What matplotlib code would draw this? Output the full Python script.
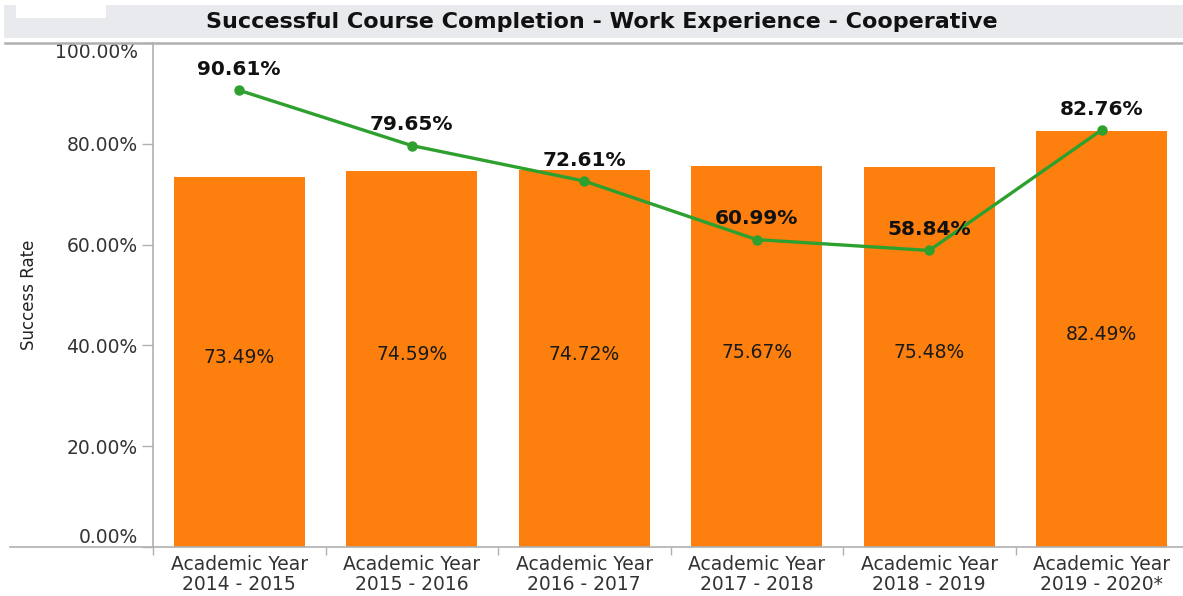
import matplotlib.pyplot as plt
from matplotlib.patches import Rectangle
from matplotlib.lines import Line2D

# donnees
years = ['Academic Year\n2014 - 2015', 'Academic Year\n2015 - 2016', 'Academic Year\n2016 - 2017',
         'Academic Year\n2017 - 2018', 'Academic Year\n2018 - 2019', 'Academic Year\n2019 - 2020*']
bar_rates = [73.49, 74.59, 74.72, 75.67, 75.48, 82.49]
line_rates = [90.61, 79.65, 72.61, 60.99, 58.84, 82.76]
y_ticks = [0, 20, 40, 60, 80, 100]

W, H = 1183, 596
fig = plt.figure(figsize=(W / 100, H / 100), dpi=100)
ax = fig.add_axes([153 / W, 1 - 547 / H, (1188 - 153) / W, (547 - 43) / H])

x = list(range(len(years)))
ax.bar(x, bar_rates, width=0.76, color='#fd7f0e', zorder=2)
ax.plot(x, line_rates, color='#2ea02e', lw=2.4, marker='o', markersize=6.5, zorder=3)

for i, v in enumerate(bar_rates):
    ax.annotate(f'{v:.2f}%', (i, v / 2), xytext=(0, 3), textcoords='offset points',
                ha='center', va='center', fontsize=13.5, color='#1a1a1a', zorder=4)
for i, v in enumerate(line_rates):
    ax.annotate(f'{v:.2f}%', (i, v), xytext=(0, 15), textcoords='offset points',
                ha='center', va='center', fontsize=14.5, fontweight='bold', color='#111111', zorder=5)

ax.set_xlim(-0.5, len(years) - 0.5)
ax.set_ylim(0, 100)
ax.set_yticks(y_ticks)
ax.set_yticklabels([f'{t:.2f}%' for t in y_ticks], fontsize=13.5, color='#333333')
labels = ax.get_yticklabels()
labels[0].set_va('bottom')
labels[-1].set_va('top')
ax.tick_params(axis='y', length=8, width=1, color='#b0b0b0', pad=3)

ax.set_xticks(x)
ax.set_xticklabels(years, fontsize=13.5, color='#333333', linespacing=1.05)
ax.set_xticks([i - 0.5 for i in range(len(years) + 1)], minor=True)
ax.tick_params(axis='x', which='major', length=0, pad=6)
ax.tick_params(axis='x', which='minor', length=6, width=1, color='#b0b0b0')

for s in ['top', 'right', 'bottom']:
    ax.spines[s].set_visible(False)
ax.spines['left'].set_color('#b0b0b0')
ax.spines['left'].set_linewidth(1.2)

ax.set_ylabel('Success Rate', fontsize=12, color='#222222', labelpad=0)
ax.yaxis.set_label_coords(-115 / (1188 - 153), 0.5)

# bandeau du titre et lignes horizontales
fig.patches.append(Rectangle((4 / W, 1 - 38 / H), 1, 33 / H, transform=fig.transFigure,
                             facecolor='#e9eaee', edgecolor='none', zorder=0))
fig.patches.append(Rectangle((16 / W, 1 - 18 / H), 90 / W, 13 / H, transform=fig.transFigure,
                             facecolor='white', edgecolor='none', zorder=1))
fig.lines.append(Line2D([5 / W, 1], [1 - 43 / H, 1 - 43 / H], transform=fig.transFigure,
                        color='#b0b0b0', lw=1.8))
fig.lines.append(Line2D([10 / W, 1], [1 - 547 / H, 1 - 547 / H], transform=fig.transFigure,
                        color='#b0b0b0', lw=1.2))
fig.text(602 / W, 1 - 22 / H, 'Successful Course Completion - Work Experience - Cooperative',
         ha='center', va='center', fontsize=16, fontweight='bold', color='#111111')

fig.savefig('out.png', dpi=100)
